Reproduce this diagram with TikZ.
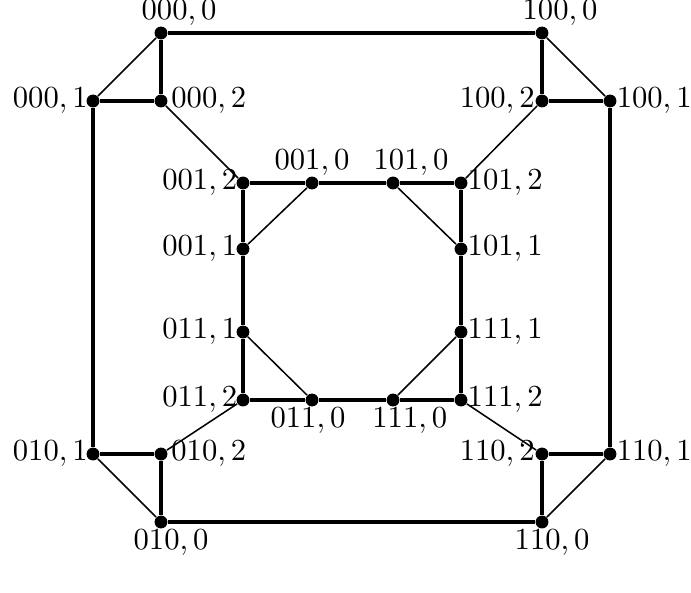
\documentclass[tikz,border=0pt]{standalone}
\usepackage{amsmath}
\usepackage{tikz}
\usetikzlibrary{positioning}

\begin{document}
\begin{tikzpicture}[x=0.01148cm, y=-0.01148cm,
      dot/.style={circle, fill=black, inner sep=0pt, minimum size=4.2pt},
      every label/.style={inner sep=0pt, font=\normalsize},
      up/.style={label distance=-1.1pt},
      down/.style={label distance=0.5pt},
      boldln/.style={line width=1.2pt},
      fineln/.style={line width=0.5pt}]
    \useasboundingbox (0,0) rectangle (691,592);
    % outer ring
    \node[dot, up, label={[xshift=5.9pt]above:{$000,0$}}] (v0000) at (161,33) {};
    \node[dot, up, label={[xshift=5.9pt]above:{$100,0$}}] (v1000) at (542,33) {};
    \node[dot, label={[label distance=-0.8pt]left:{$000,1$}}] (v0001) at (93,101) {};
    \node[dot, label={[label distance=0.9pt]right:{$000,2$}}] (v0002) at (161,101) {};
    \node[dot, label={[label distance=-0.1pt]left:{$100,2$}}] (v1002) at (542,101) {};
    \node[dot, label={[label distance=-0.3pt]right:{$100,1$}}] (v1001) at (610,101) {};
    \node[dot, label={[label distance=-0.8pt]left:{$010,1$}}] (v0101) at (93,454) {};
    \node[dot, label={[label distance=0.9pt]right:{$010,2$}}] (v0102) at (161,454) {};
    \node[dot, label={[label distance=-0.1pt]left:{$110,2$}}] (v1102) at (542,454) {};
    \node[dot, label={[label distance=-0.3pt]right:{$110,1$}}] (v1101) at (610,454) {};
    \node[dot, down, label={[xshift=3.3pt]below:{$010,0$}}] (v0100) at (161,522) {};
    \node[dot, down, label={[xshift=3.3pt]below:{$110,0$}}] (v1100) at (542,522) {};
    % inner ring
    \node[dot, label={[label distance=-0.6pt]left:{$001,2$}}] (v0012) at (243,183) {};
    \node[dot, up, label={[xshift=0pt]above:{$001,0$}}] (v0010) at (312,183) {};
    \node[dot, up, label={[xshift=5.9pt]above:{$101,0$}}] (v1010) at (393,183) {};
    \node[dot, label={[label distance=-0.3pt]right:{$101,2$}}] (v1012) at (461,183) {};
    \node[dot, label={[label distance=-0.6pt]left:{$001,1$}}] (v0011) at (243,249) {};
    \node[dot, label={[label distance=-0.3pt]right:{$101,1$}}] (v1011) at (461,249) {};
    \node[dot, label={[label distance=-0.6pt]left:{$011,1$}}] (v0111) at (243,332) {};
    \node[dot, label={[label distance=-0.3pt]right:{$111,1$}}] (v1111) at (461,332) {};
    \node[dot, label={[label distance=-0.6pt]left:{$011,2$}}] (v0112) at (243,400) {};
    \node[dot, down, label={[xshift=-1.3pt]below:{$011,0$}}] (v0110) at (312,400) {};
    \node[dot, down, label={[xshift=5.5pt]below:{$111,0$}}] (v1110) at (393,400) {};
    \node[dot, label={[label distance=-0.3pt]right:{$111,2$}}] (v1112) at (461,400) {};
    % heavy edges
    \draw[boldln] (v0000) -- (v1000);
    \draw[boldln] (v0000) -- (v0002) -- (v0001) -- (v0101) -- (v0102) -- (v0100) -- (v1100)
                  -- (v1102) -- (v1101) -- (v1001) -- (v1002) -- (v1000);
    \draw[boldln] (v0012) -- (v0010) -- (v1010) -- (v1012) -- (v1011) -- (v1111) -- (v1112)
                  -- (v1110) -- (v0110) -- (v0112) -- (v0111) -- (v0011) -- (v0012);
    % light edges
    \draw[fineln] (v0000) -- (v0001);
    \draw[fineln] (v1000) -- (v1001);
    \draw[fineln] (v0101) -- (v0100);
    \draw[fineln] (v1101) -- (v1100);
    \draw[fineln] (v0002) -- (v0012);
    \draw[fineln] (v1002) -- (v1012);
    \draw[fineln] (v0102) -- (v0112);
    \draw[fineln] (v1102) -- (v1112);
    \draw[fineln] (v0011) -- (v0010);
    \draw[fineln] (v1010) -- (v1011);
    \draw[fineln] (v0111) -- (v0110);
    \draw[fineln] (v1110) -- (v1111);
\end{tikzpicture}
\end{document}
